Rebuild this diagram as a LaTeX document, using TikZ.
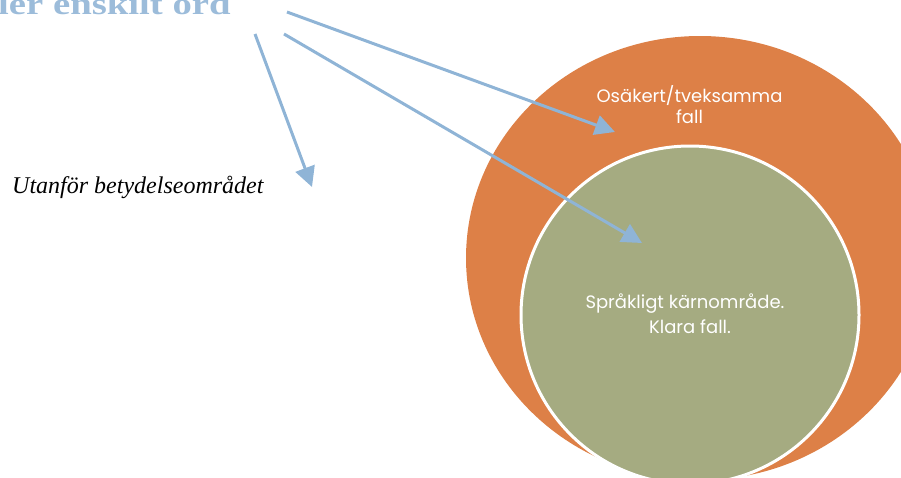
\documentclass[tikz,border=0pt]{standalone}
\usepackage{fontspec}
\setmainfont{Liberation Serif}
\newfontfamily\gothic{Poppins}
\newfontfamily\titlefont[FakeStretch=1.25]{Liberation Serif Bold}
\usetikzlibrary{arrows.meta}
\definecolor{orangefill}{HTML}{DD8047}
\definecolor{greenfill}{HTML}{A5AB81}
\definecolor{arrowblue}{HTML}{8FB4D6}
\definecolor{titleblue}{HTML}{9CBCDA}
\tikzset{
  pointer/.style={draw=arrowblue, line width=3pt, -{Triangle[length=20pt,width=20pt]}},
  circtext/.style={text=white, anchor=base, font=\gothic\fontsize{18}{22}\selectfont, inner sep=0pt}
}
\begin{document}
\begin{tikzpicture}[x=1pt,y=-1pt]
\useasboundingbox (0,0) rectangle (901,477);
\clip (0,0) rectangle (901,477);
\fill[orangefill] (700,258) ellipse [x radius=234, y radius=222];
\filldraw[fill=greenfill, draw=white, line width=3pt] (690,315) circle [radius=169];
\node[circtext] (unsure1) at (689.5,102) {Osäkert/tveksamma};
\node[circtext] (unsure2) at (689.5,123) {fall};
\node[circtext] (core1) at (685,308) {Språkligt kärnområde.};
\node[circtext] (core2) at (690,333) {Klara fall.};
\node[anchor=base west, inner sep=0pt, font=\itshape\fontsize{24}{28}\selectfont] (outside) at (12,193) {Utanför betydelseområdet};
\node[anchor=base west, inner sep=0pt, text=titleblue, font=\titlefont\fontsize{31}{34}\selectfont] (title) at (-2,14) {ler enskilt ord};
\coordinate (a1s) at (287,12);
\coordinate (a1e) at (615,132);
\coordinate (a2s) at (284,34);
\coordinate (a2e) at (642,243);
\coordinate (a3s) at (255,34);
\coordinate (a3e) at (312,187);
\draw[pointer] (a1s) -- (a1e);
\draw[pointer] (a2s) -- (a2e);
\draw[pointer] (a3s) -- (a3e);
\end{tikzpicture}
\end{document}
